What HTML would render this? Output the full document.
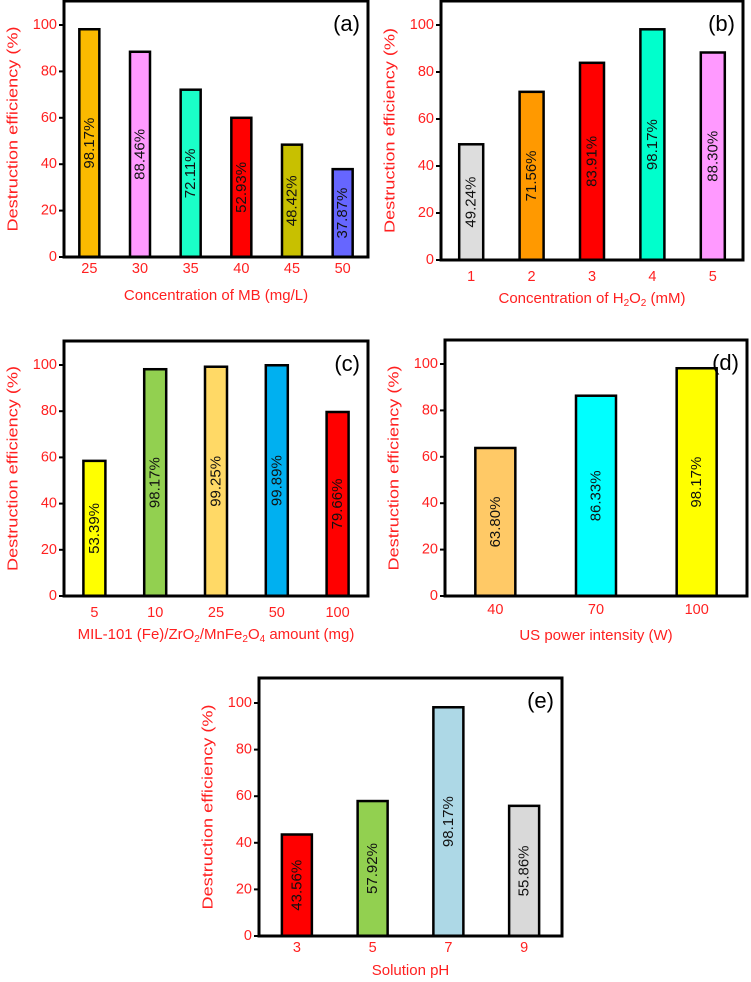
<!DOCTYPE html>
<html><head><meta charset="utf-8"><style>
html,body{margin:0;padding:0;background:#fff}
svg{display:block;font-family:"Liberation Sans",sans-serif}
</style></head><body>
<svg id="fig" width="751" height="982" viewBox="0 0 751 982" xmlns="http://www.w3.org/2000/svg"></svg>
<script>
// Panel (a)
const catsA = ["25","30","35","40","45","50"];
const valsA = [98.17, 88.46, 72.11, 60, 48.42, 37.87];
const lblsA = ["98.17%","88.46%","72.11%","52.93%","48.42%","37.87%"];
const colsA = ["#FBBA00","#FF99FF","#1AFFC8","#FF0000","#C8C000","#6666FF"];
// Panel (b)
const catsB = ["1","2","3","4","5"];
const valsB = [49.24, 71.56, 83.91, 98.17, 88.30];
const lblsB = ["49.24%","71.56%","83.91%","98.17%","88.30%"];
const colsB = ["#DDDDDD","#FF9900","#FF0000","#00FFCC","#FF99FF"];
// Panel (c)
const catsC = ["5","10","25","50","100"];
const valsC = [58.5, 98.17, 99.25, 99.89, 79.66];
const lblsC = ["53.39%","98.17%","99.25%","99.89%","79.66%"];
const colsC = ["#FFFF00","#92D050","#FFD966","#00B0F0","#FF0000"];
// Panel (d)
const catsD = ["40","70","100"];
const valsD = [63.80, 86.33, 98.17];
const lblsD = ["63.80%","86.33%","98.17%"];
const colsD = ["#FFC966","#00FFFF","#FFFF00"];
// Panel (e)
const catsE = ["3","5","7","9"];
const valsE = [43.56, 57.92, 98.17, 55.86];
const lblsE = ["43.56%","57.92%","98.17%","55.86%"];
const colsE = ["#FF0000","#92D050","#ADD8E6","#D9D9D9"];
const yTicks = [0,20,40,60,80,100];

const NS = "http://www.w3.org/2000/svg";
const svg = document.getElementById("fig");
function mk(tag, attrs, parent){
  const e = document.createElementNS(NS, tag);
  for (const k in attrs) e.setAttribute(k, attrs[k]);
  (parent||svg).appendChild(e);
  return e;
}
function panel(id, L, R, T, B, Y100, cats, vals, lbls, cols, barW, titleParts, titleY, tickY, tag){
  const g = mk("g", {});
  
  
  const band = (R - L) / cats.length;
  const xc = i => L + (i + 0.5) * band;
  const ys = v => B - v * (B - Y100) / 100;
  cats.forEach((c, i) => {
    const h = B - ys(vals[i]);
    const r = mk("rect", {x: xc(i) - barW/2, y: ys(vals[i]), width: barW, height: h, fill: cols[i], stroke: "#000", "stroke-width": 2.5}, g);
    
    
    const cy = ys(vals[i] / 2);
    const t = mk("text", {x: xc(i), y: cy, "font-size": 15, "text-anchor": "middle", "dominant-baseline": "central", fill: "#111", transform: "rotate(-90 " + xc(i) + " " + cy + ")"}, g);
    t.textContent = lbls[i];
    
    
    const xt = mk("text", {x: xc(i), y: tickY, "font-size": 14.5, "text-anchor": "middle", fill: "#FF2020"}, g);
    xt.textContent = c;
    
    
  });
  const f = mk("rect", {x: L, y: T, width: R - L, height: B - T, fill: "none", stroke: "#000", "stroke-width": 3}, g);
  
  
  yTicks.forEach(v => {
    mk("line", {x1: L - 5, x2: L, y1: ys(v), y2: ys(v), stroke: "#000", "stroke-width": 2}, g);
    const yt = mk("text", {x: L - 7, y: ys(v), "font-size": 14.5, "text-anchor": "end", "dominant-baseline": "central", fill: "#FF2020"}, g);
    yt.textContent = v;
    
    
  });
  const ym = (T + B) / 2;
  const yx = L - 51;
  const ytt = mk("text", {x: yx, y: ym, "font-size": 15, textLength: 205, lengthAdjust: "spacingAndGlyphs", "text-anchor": "middle", "dominant-baseline": "central", fill: "#FF2020", transform: "rotate(-90 " + yx + " " + ym + ")"}, g);
  ytt.textContent = "Destruction efficiency (%)";
  
  
  const xtt = mk("text", {x: (L + R) / 2, y: titleY, "font-size": 15, "text-anchor": "middle", fill: "#FF2020"}, g);
  
  
  titleParts.forEach(p => {
    const s = mk("tspan", {}, xtt);
    if (p[1]) { s.setAttribute("font-size", "10"); s.setAttribute("dy", "3"); }
    else if (p[2]) { s.setAttribute("dy", "-3"); }
    s.textContent = p[0];
  });
  const pt = mk("text", {x: R - 8, y: T + 30, "font-size": 22, "text-anchor": "end", fill: "#000"}, g);
  pt.textContent = tag;
  
  
}
panel("a", 64, 368, 1, 257, 25, catsA, valsA, lblsA, colsA, 20,
  [["Concentration of MB (mg/L)"]], 300, 273, "(a)");
panel("b", 441, 743, 1, 260, 25, catsB, valsB, lblsB, colsB, 24,
  [["Concentration of H"],["2",1],["O",0,1],["2",1],[" (mM)",0,1]], 303, 281, "(b)");
panel("c", 64, 368, 341, 596, 365, catsC, valsC, lblsC, colsC, 22,
  [["MIL-101 (Fe)/ZrO"],["2",1],["/MnFe",0,1],["2",1],["O",0,1],["4",1],[" amount (mg)",0,1]], 639, 617, "(c)");
panel("d", 445, 747, 340, 596, 364, catsD, valsD, lblsD, colsD, 40,
  [["US power intensity (W)"]], 640, 614, "(d)");
panel("e", 259, 562, 678, 936, 703, catsE, valsE, lblsE, colsE, 30,
  [["Solution pH"]], 975, 952, "(e)");
</script>
</body></html>
